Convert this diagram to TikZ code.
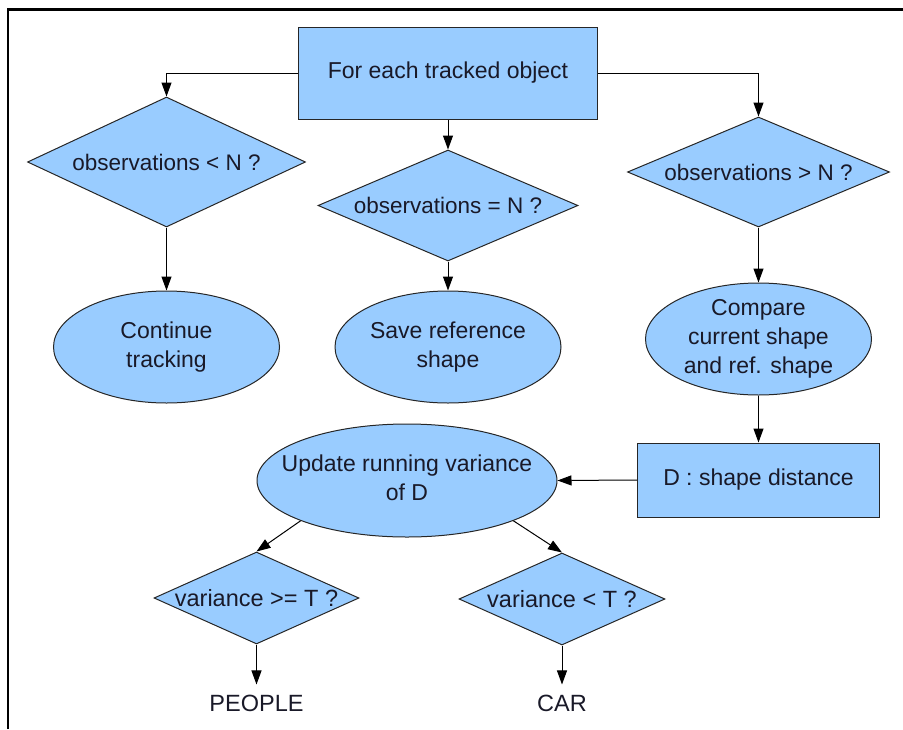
\documentclass[tikz,border=0pt]{standalone}
\usepackage{fontspec}
\setmainfont{Liberation Sans}
\usetikzlibrary{shapes.geometric,arrows.meta}
\definecolor{boxblue}{RGB}{153,204,255}
\definecolor{inkc}{RGB}{25,25,40}
\newcommand\zw[1]{\makebox[0pt]{#1}}
\newcommand\zl[1]{\makebox[0pt]{\begin{tabular}{@{}c@{}}#1\end{tabular}}}
\begin{document}
\begin{tikzpicture}[x=1pt,y=-1pt,
  every node/.style={font=\fontsize{23}{29}\selectfont, text=inkc},
  shp/.style={draw=black!85, line width=1pt, fill=boxblue},
  box/.style={shp, rectangle, inner sep=0pt},
  dia/.style={shp, diamond, inner sep=0pt, shape aspect=1, font=\fontsize{22.5}{29}\selectfont},
  ell/.style={shp, ellipse, inner xsep=0pt, inner ysep=-6pt},
  term/.style={inner xsep=2pt, inner ysep=10pt, font=\fontsize{23.5}{29}\selectfont},
  arr/.style={draw=black, line width=1pt, -{Triangle[length=14pt,width=10pt]}}]
\useasboundingbox (0,0) rectangle (903,729);
% frame
\draw[line width=2.8pt, black] (8,729) -- (8,9.7) -- (903,9.7);
% nodes
\node[box, minimum width=299pt, minimum height=92pt] (top) at (448,73) {For each tracked object};
\node[dia, minimum width=278pt, minimum height=130pt] (d1) at (166.5,162) {\zw{observations < N ?}};
\node[dia, minimum width=260pt, minimum height=111pt] (d2) at (448,205.5) {\zw{observations = N ?}};
\node[dia, minimum width=262pt, minimum height=110pt] (d3) at (758.5,172) {\zw{observations > N ?}};
\node[ell, minimum width=226pt, minimum height=112pt] (e1) at (166.5,347) {\zl{Continue\\tracking}};
\node[ell, minimum width=226pt, minimum height=112pt] (e2) at (448,347) {\zl{Save reference\\shape}};
\node[ell, minimum width=226pt, minimum height=112pt] (e3) at (758.5,339) {\zl{Compare\\current shape\\and ref. shape}};
\node[box, minimum width=242pt, minimum height=74pt] (dist) at (758.5,480) {D : shape distance};
\node[ell, minimum width=300pt, minimum height=113pt] (upd) at (407,480.5) {\zl{Update running variance\\of D}};
\node[dia, minimum width=205pt, minimum height=92pt, font=\fontsize{23.5}{29}\selectfont] (d4) at (256.5,598) {\zw{variance >= T ?}};
\node[dia, minimum width=206pt, minimum height=92pt, font=\fontsize{23.5}{29}\selectfont] (d5) at (562,599) {\zw{variance < T ?}};
\node[term] (people) at (256.5,703) {PEOPLE};
\node[term] (car) at (562,703) {CAR};
% connectors
\draw[arr] (top.west) -| (d1.north);
\draw[arr] (top.south) -- (d2.north);
\draw[arr] (top.east) -| (d3.north);
\draw[arr] (d1.south) -- (e1.north);
\draw[arr] (d2.south) -- (e2.north);
\draw[arr] (d3.south) -- (e3.north);
\draw[arr] (e3.south) -- (dist.north);
\draw[arr] (dist.west) -- (upd.east);
\draw[arr] (upd.south west) -- (d4.north);
\draw[arr] (upd.south east) -- (d5.north);
\draw[arr] (d4.south) -- (people.north);
\draw[arr] (d5.south) -- (car.north);
\end{tikzpicture}
\end{document}
